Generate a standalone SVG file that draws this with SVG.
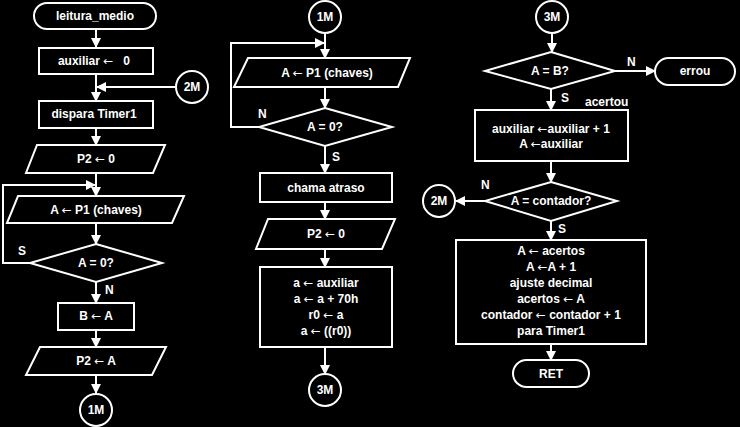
<svg xmlns="http://www.w3.org/2000/svg" width="740" height="427" viewBox="0 0 740 427">
<defs>
<marker id="ah" viewBox="0 0 10 10" refX="9" refY="5" markerWidth="10" markerHeight="10" markerUnits="userSpaceOnUse" orient="auto"><path d="M0,0 L10,5 L0,10 z" fill="#fff"/></marker>
<style>
.s{fill:none;stroke:#fff;stroke-width:2}
.c{fill:none;stroke:#fff;stroke-width:2;marker-end:url(#ah)}
text{font-family:"Liberation Sans",Arial,sans-serif;font-size:12px;font-weight:bold;fill:#fff;text-anchor:middle}
.l{text-anchor:start}
.a{font-family:"DejaVu Sans",sans-serif;font-weight:normal}
</style>
</defs>
<rect width="740" height="427" fill="#000"/>
<g id="connectors">
<path class="c" d="M96,29 V47"/>
<path class="c" d="M96,74 V101"/>
<path class="c" d="M176,87 H97"/>
<path class="c" d="M96,128 V145"/>
<path class="c" d="M96,173 V196"/>
<path class="c" d="M30,263 H3 V185 H95"/>
<path class="c" d="M96,223 V244"/>
<path class="c" d="M96,282 V303"/>
<path class="c" d="M96,330 V347"/>
<path class="c" d="M96,375 V393"/>
<path class="c" d="M325,33 V58"/>
<path class="c" d="M259,127 H231 V43 H324"/>
<path class="c" d="M325,87 V108"/>
<path class="c" d="M325,146 V173"/>
<path class="c" d="M325,202 V219"/>
<path class="c" d="M325,249 V267"/>
<path class="c" d="M325,347 V374"/>
<path class="c" d="M552,33 V52"/>
<path class="c" d="M615,71 H655"/>
<path class="c" d="M551,89 V110"/>
<path class="c" d="M551,161 V182"/>
<path class="c" d="M485,201 H456"/>
<path class="c" d="M551,221 V240"/>
<path class="c" d="M551,344 V360"/>
<text x="105" y="294" class="l">N</text>
<text x="18" y="255" class="l">S</text>
<text x="258" y="118" class="l">N</text>
<text x="332" y="161" class="l">S</text>
<text x="627" y="66" class="l">N</text>
<text x="561" y="102" class="l">S</text>
<text x="585" y="106" class="l">acertou</text>
<text x="481" y="189" class="l">N</text>
<text x="558" y="233" class="l">S</text>
</g>
<g id="n1"><rect class="s" x="34" y="3" width="122" height="26" rx="13"/><text x="95" y="20">leitura_medio</text></g>
<g id="n2"><rect class="s" x="39" y="48" width="114" height="26"/><text x="94" y="65" xml:space="preserve">auxiliar <tspan class="a">←</tspan>   0</text></g>
<g id="n3"><circle class="s" cx="192" cy="87" r="16"/><text x="192" y="91">2M</text></g>
<g id="n4"><rect class="s" x="39" y="101" width="114" height="27"/><text x="94" y="118">dispara Timer1</text></g>
<g id="n5"><path class="s" d="M37,145 H165 L153,173 H26 Z"/><text x="96" y="163">P2 <tspan class="a">←</tspan> 0</text></g>
<g id="n6"><path class="s" d="M18,196 H184 L172,223 H7 Z"/><text x="96" y="214">A <tspan class="a">←</tspan> P1 (chaves)</text></g>
<g id="n7"><path class="s" d="M96,244 L162,263 L96,282 L30,263 Z"/><text x="96" y="267">A = 0?</text></g>
<g id="n8"><rect class="s" x="58" y="303" width="76" height="27"/><text x="96" y="320">B <tspan class="a">←</tspan> A</text></g>
<g id="n9"><path class="s" d="M40,347 H166 L152,375 H26 Z"/><text x="96" y="365">P2 <tspan class="a">←</tspan> A</text></g>
<g id="n10"><circle class="s" cx="96" cy="410" r="16"/><text x="96" y="414">1M</text></g>
<g id="n11"><circle class="s" cx="325" cy="17" r="16"/><text x="325" y="21">1M</text></g>
<g id="n12"><path class="s" d="M248,58 H410 L398,87 H234 Z"/><text x="327" y="77">A <tspan class="a">←</tspan> P1 (chaves)</text></g>
<g id="n13"><path class="s" d="M325,108 L392,127 L325,146 L259,127 Z"/><text x="325" y="131">A = 0?</text></g>
<g id="n14"><rect class="s" x="260" y="173" width="132" height="29"/><text x="326" y="192">chama atraso</text></g>
<g id="n15"><path class="s" d="M268,219 H395 L382,249 H256 Z"/><text x="326" y="238">P2 <tspan class="a">←</tspan> 0</text></g>
<g id="n16"><rect class="s" x="260" y="267" width="132" height="80"/>
<text x="326" y="287">a <tspan class="a">←</tspan> auxiliar</text>
<text x="326" y="303">a <tspan class="a">←</tspan> a + 70h</text>
<text x="326" y="319">r0 <tspan class="a">←</tspan> a</text>
<text x="326" y="335">a <tspan class="a">←</tspan> ((r0))</text></g>
<g id="n17"><circle class="s" cx="325" cy="390" r="16"/><text x="325" y="394">3M</text></g>
<g id="n18"><circle class="s" cx="552" cy="17" r="16"/><text x="552" y="21">3M</text></g>
<g id="n19"><path class="s" d="M551,52 L615,71 L551,89 L485,71 Z"/><text x="550" y="75">A = B?</text></g>
<g id="n20"><rect class="s" x="655" y="58" width="80" height="27" rx="13.5"/><text x="695" y="75">errou</text></g>
<g id="n21"><rect class="s" x="475" y="110" width="153" height="51"/>
<text x="551" y="133">auxiliar <tspan class="a">←</tspan>auxiliar + 1</text>
<text x="551" y="148">A <tspan class="a">←</tspan>auxiliar</text></g>
<g id="n22"><path class="s" d="M551,182 L617,201 L551,221 L485,201 Z"/><text x="551" y="205">A = contador?</text></g>
<g id="n23"><circle class="s" cx="439" cy="201" r="16"/><text x="439" y="205">2M</text></g>
<g id="n24"><rect class="s" x="456" y="240" width="190" height="104"/>
<text x="551" y="255">A <tspan class="a">←</tspan> acertos</text>
<text x="551" y="271">A <tspan class="a">←</tspan>A + 1</text>
<text x="551" y="287">ajuste decimal</text>
<text x="551" y="303">acertos <tspan class="a">←</tspan> A</text>
<text x="551" y="319">contador <tspan class="a">←</tspan> contador + 1</text>
<text x="551" y="335">para Timer1</text></g>
<g id="n25"><rect class="s" x="513" y="360" width="76" height="27" rx="13.5"/><text x="551" y="378">RET</text></g>
</svg>
